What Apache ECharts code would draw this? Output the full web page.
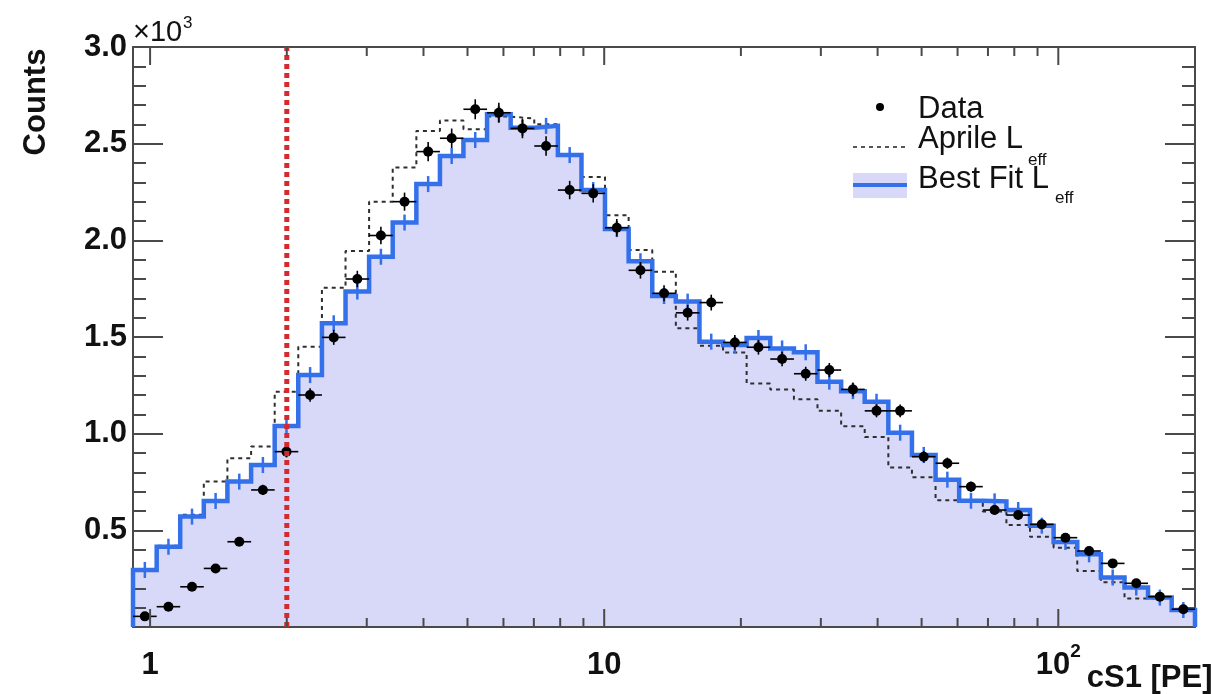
<!DOCTYPE html>
<html>
<head>
<meta charset="utf-8">
<script src="https://cdn.jsdelivr.net/npm/echarts@6/dist/echarts.min.js"></script>
<style>
  html, body { margin: 0; padding: 0; background: #ffffff; }
  #chart { width: 1213px; height: 694px; }
</style>
</head>
<body>
<div id="chart"></div>
<script>
// Log-spaced bin edges in cS1 [PE] (45 bins)
const binEdges = [0.917, 1.034, 1.165, 1.313, 1.480, 1.669, 1.881, 2.120, 2.390, 2.694,
  3.036, 3.422, 3.858, 4.348, 4.898, 5.521, 6.223, 7.015, 7.907, 8.912,
  10.04, 11.32, 12.76, 14.38, 16.21, 18.27, 20.59, 23.21, 26.17, 29.49,
  33.25, 37.47, 42.24, 47.61, 53.67, 60.49, 68.19, 76.86, 86.63, 97.65,
  110.1, 124.1, 139.9, 157.6, 177.7, 200];

// Observed counts per bin
const dataCounts = [55, 105, 208, 303, 441, 709, 907, 1200, 1498, 1800,
  2025, 2200, 2459, 2528, 2678, 2660, 2579, 2488, 2260, 2243,
  2065, 1845, 1726, 1625, 1678, 1472, 1447, 1386, 1310, 1329,
  1229, 1118, 1118, 881, 847, 726, 605, 579, 531, 462,
  393, 329, 226, 157, 92];

// Best-fit L_eff prediction per bin
const bestFitCounts = [295, 415, 571, 652, 752, 838, 1040, 1303, 1571, 1735,
  1915, 2092, 2291, 2436, 2519, 2652, 2582, 2592, 2441, 2260,
  2058, 1892, 1712, 1683, 1476, 1459, 1495, 1441, 1421, 1269,
  1220, 1165, 1005, 890, 762, 653, 650, 605, 524, 440,
  376, 256, 204, 152, 88];

// Aprile L_eff prediction per bin
const aprileCounts = [300, 420, 580, 752, 873, 933, 1217, 1450, 1755, 1945,
  2200, 2377, 2566, 2620, 2575, 2640, 2630, 2600, 2440, 2328,
  2130, 1950, 1838, 1545, 1455, 1420, 1260, 1228, 1178, 1118,
  1038, 983, 825, 775, 655, 655, 597, 528, 467, 410,
  290, 232, 148, 150, 90];

const xMajorTicks = [1, 10, 100];
const xMinorTicks = [2, 3, 4, 5, 6, 7, 8, 9, 20, 30, 40, 50, 60, 70, 80, 90];
const thresholdPE = 2;
const yMax = 3000;

const FONT = 'Liberation Sans, Arial, Helvetica, sans-serif';
const BLUE = '#3370ea';
const FILL = '#d8d8f9';
const AXIS = '#4a4a4a';

// Step outline points: value of bin i held from edge i to edge i+1
function stepPoints(values, closeToZero) {
  const pts = [];
  if (closeToZero) pts.push([binEdges[0], 0]);
  values.forEach((v, i) => pts.push([binEdges[i], v]));
  pts.push([binEdges[binEdges.length - 1], values[values.length - 1]]);
  if (closeToZero) pts.push([binEdges[binEdges.length - 1], 0]);
  return pts;
}

function isDecade(v) {
  const l = Math.log10(v);
  return Math.abs(l - Math.round(l)) < 1e-6;
}

const chart = echarts.init(document.getElementById('chart'), null, { renderer: 'canvas' });

const yAxisCommon = {
  type: 'value', min: 0, max: yMax, interval: 500, z: 2,
  axisLine: { show: true, lineStyle: { color: AXIS, width: 2 } },
  axisTick: { show: true, inside: true, length: 30, lineStyle: { color: AXIS, width: 2 } },
  minorTick: { show: true, splitNumber: 5, length: 13, lineStyle: { color: AXIS, width: 2 } },
  splitLine: { show: false },
  minorSplitLine: { show: false }
};

const option = {
  animation: false,
  backgroundColor: '#ffffff',
  grid: { left: 133, right: 18, top: 47, bottom: 67, containLabel: false, outerBoundsMode: 'none' },
  xAxis: [
    {
      type: 'log', logBase: 10, min: binEdges[0], max: binEdges[binEdges.length - 1],
      position: 'bottom', z: 2,
      axisLine: { show: true, onZero: false, lineStyle: { color: AXIS, width: 2 } },
      axisTick: { show: false },
      splitLine: { show: false },
      axisLabel: {
        show: true, margin: 12, color: '#111',
        fontFamily: FONT, fontSize: 31, fontWeight: 'bold',
        formatter: function (v) {
          if (!isDecade(v)) return '';
          const p = Math.round(Math.log10(v));
          if (p <= 1) return '{b|' + Math.round(v) + '}';
          return '{b|10}{s|' + p + '}';
        },
        rich: {
          b: { fontFamily: FONT, fontSize: 31, fontWeight: 'bold', color: '#111', padding: [11, 0, 0, 0] },
          s: { fontFamily: FONT, fontSize: 19, fontWeight: 'bold', color: '#111', verticalAlign: 'top', padding: [3, 0, 0, 0] }
        }
      },
      name: 'cS1 [PE]', nameLocation: 'end', nameGap: -2,
      nameTextStyle: {
        fontFamily: FONT, fontSize: 31, fontWeight: 'bold', color: '#111',
        align: 'right', verticalAlign: 'top', padding: [36, 0, 0, 0]
      }
    },
    {
      type: 'log', logBase: 10, min: binEdges[0], max: binEdges[binEdges.length - 1],
      position: 'top', z: 2,
      axisLine: { show: true, onZero: false, lineStyle: { color: AXIS, width: 2 } },
      axisTick: { show: false }, axisLabel: { show: false }, splitLine: { show: false }
    }
  ],
  yAxis: [
    Object.assign({}, yAxisCommon, {
      position: 'left',
      axisLabel: {
        show: true, margin: 6, color: '#111',
        fontFamily: FONT, fontSize: 31, fontWeight: 'bold',
        formatter: v => (v === 0 ? '' : (v / 1000).toFixed(1))
      }
    }),
    Object.assign({}, yAxisCommon, {
      position: 'right',
      axisLabel: { show: false }
    })
  ],
  series: [
    // Filled area under the best-fit histogram
    {
      name: 'fill', type: 'line', step: 'end', z: 1,
      data: stepPoints(bestFitCounts, true),
      symbol: 'none', silent: true,
      lineStyle: { width: 0, opacity: 0 },
      areaStyle: { color: FILL, opacity: 1 }
    },
    // Aprile L_eff prediction (dashed outline)
    {
      name: 'Aprile', type: 'line', step: 'end', z: 3,
      data: stepPoints(aprileCounts, false),
      symbol: 'none', silent: true,
      lineStyle: { color: '#2e2e2e', width: 2, type: [4, 4] }
    },
    // Best-fit L_eff outline
    {
      name: 'Best Fit', type: 'line', step: 'end', z: 4,
      data: stepPoints(bestFitCounts, true),
      symbol: 'none', silent: true,
      lineStyle: { color: BLUE, width: 4.5, join: 'miter' }
    },
    // Best-fit per-bin error ticks
    {
      name: 'Best Fit err', type: 'custom', z: 4, silent: true,
      data: bestFitCounts.map((v, i) => [binEdges[i], binEdges[i + 1], v]),
      encode: { x: [0, 1], y: 2 },
      renderItem: function (params, api) {
        const xc = Math.sqrt(api.value(0) * api.value(1));
        const p = api.coord([xc, api.value(2)]);
        return {
          type: 'line',
          shape: { x1: p[0], y1: p[1] - 8, x2: p[0], y2: p[1] + 8 },
          style: { stroke: BLUE, lineWidth: 2.5 }
        };
      }
    },
    // Data points with bin-width and statistical error bars
    {
      name: 'Data', type: 'custom', z: 5, silent: true,
      data: dataCounts.map((v, i) => [binEdges[i], binEdges[i + 1], v]),
      encode: { x: [0, 1], y: 2 },
      renderItem: function (params, api) {
        const lo = api.value(0), hi = api.value(1), v = api.value(2);
        const xc = Math.sqrt(lo * hi);
        const err = Math.sqrt(v);
        const p = api.coord([xc, v]);
        const pl = api.coord([lo, v]);
        const ph = api.coord([hi, v]);
        const pt = api.coord([xc, v + err]);
        const pb = api.coord([xc, v - err]);
        return {
          type: 'group',
          children: [
            { type: 'line', shape: { x1: pl[0], y1: p[1], x2: ph[0], y2: p[1] }, style: { stroke: '#000', lineWidth: 1.6 } },
            { type: 'line', shape: { x1: p[0], y1: pt[1], x2: p[0], y2: pb[1] }, style: { stroke: '#000', lineWidth: 1.6 } },
            { type: 'circle', shape: { cx: p[0], cy: p[1], r: 5 }, style: { fill: '#000' } }
          ]
        };
      }
    },
    // Analysis threshold (dotted vertical line)
    {
      name: 'threshold', type: 'custom', z: 6, silent: true,
      data: [[thresholdPE]],
      encode: { x: 0 },
      renderItem: function (params, api) {
        const cs = params.coordSys;
        const x = api.coord([api.value(0), 0])[0];
        return {
          type: 'line',
          shape: { x1: x, y1: cs.y + cs.height, x2: x, y2: cs.y },
          style: { stroke: '#d42a2e', lineWidth: 5, lineDash: [5, 4], fill: null }
        };
      }
    },
    // Log-axis ticks (bottom and top frame)
    {
      name: 'xticks', type: 'custom', z: 6, silent: true,
      data: xMajorTicks.map(v => [v, 1]).concat(xMinorTicks.map(v => [v, 0])),
      encode: { x: 0 },
      renderItem: function (params, api) {
        const cs = params.coordSys;
        const x = api.coord([api.value(0), 0])[0];
        const len = api.value(1) ? 18 : 9;
        const yb = cs.y + cs.height, yt = cs.y;
        return {
          type: 'group',
          children: [
            { type: 'line', shape: { x1: x, y1: yb, x2: x, y2: yb - len }, style: { stroke: AXIS, lineWidth: 2 } },
            { type: 'line', shape: { x1: x, y1: yt, x2: x, y2: yt + len }, style: { stroke: AXIS, lineWidth: 2 } }
          ]
        };
      }
    }
  ],
  graphic: [
    // y-axis title
    {
      type: 'text', x: 36, y: 102, rotation: Math.PI / 2,
      style: {
        text: 'Counts', fill: '#111', font: 'bold 31px ' + FONT,
        align: 'center', verticalAlign: 'middle', textAlign: 'center', textVerticalAlign: 'middle'
      }
    },
    // y-axis multiplier
    {
      type: 'text', x: 133, y: 33,
      style: { text: '×10', fill: '#111', font: '29px ' + FONT, align: 'left', verticalAlign: 'middle', textAlign: 'left', textVerticalAlign: 'middle' }
    },
    {
      type: 'text', x: 183, y: 23,
      style: { text: '3', fill: '#111', font: '17px ' + FONT, align: 'left', verticalAlign: 'middle', textAlign: 'left', textVerticalAlign: 'middle' }
    },
    // Panel label
    {
      type: 'text', x: 513, y: 451,
      style: { text: 'S2', fill: '#000', font: 'bold 72px ' + FONT, align: 'center', verticalAlign: 'middle', textAlign: 'center', textVerticalAlign: 'middle' }
    },
    // Legend: Data
    { type: 'circle', shape: { cx: 880, cy: 107, r: 4 }, style: { fill: '#000' } },
    {
      type: 'text', x: 918, y: 109,
      style: { text: 'Data', fill: '#111', font: '31px ' + FONT, align: 'left', verticalAlign: 'middle', textAlign: 'left', textVerticalAlign: 'middle' }
    },
    // Legend: Aprile
    { type: 'line', shape: { x1: 853, y1: 147, x2: 907, y2: 147 }, style: { stroke: '#2e2e2e', lineWidth: 1.6, lineDash: [4, 4] } },
    {
      type: 'text', x: 918, y: 139,
      style: { text: 'Aprile L', fill: '#111', font: '31px ' + FONT, align: 'left', verticalAlign: 'middle', textAlign: 'left', textVerticalAlign: 'middle' }
    },
    {
      type: 'text', x: 1028, y: 160,
      style: { text: 'eff', fill: '#111', font: '17px ' + FONT, align: 'left', verticalAlign: 'middle', textAlign: 'left', textVerticalAlign: 'middle' }
    },
    // Legend: Best fit
    { type: 'rect', shape: { x: 853, y: 173, width: 54, height: 25 }, style: { fill: FILL } },
    { type: 'line', shape: { x1: 853, y1: 185, x2: 907, y2: 185 }, style: { stroke: BLUE, lineWidth: 4 } },
    {
      type: 'text', x: 918, y: 179,
      style: { text: 'Best Fit L', fill: '#111', font: '31px ' + FONT, align: 'left', verticalAlign: 'middle', textAlign: 'left', textVerticalAlign: 'middle' }
    },
    {
      type: 'text', x: 1055, y: 198,
      style: { text: 'eff', fill: '#111', font: '17px ' + FONT, align: 'left', verticalAlign: 'middle', textAlign: 'left', textVerticalAlign: 'middle' }
    }
  ]
};

chart.setOption(option);
</script>
</body>
</html>
